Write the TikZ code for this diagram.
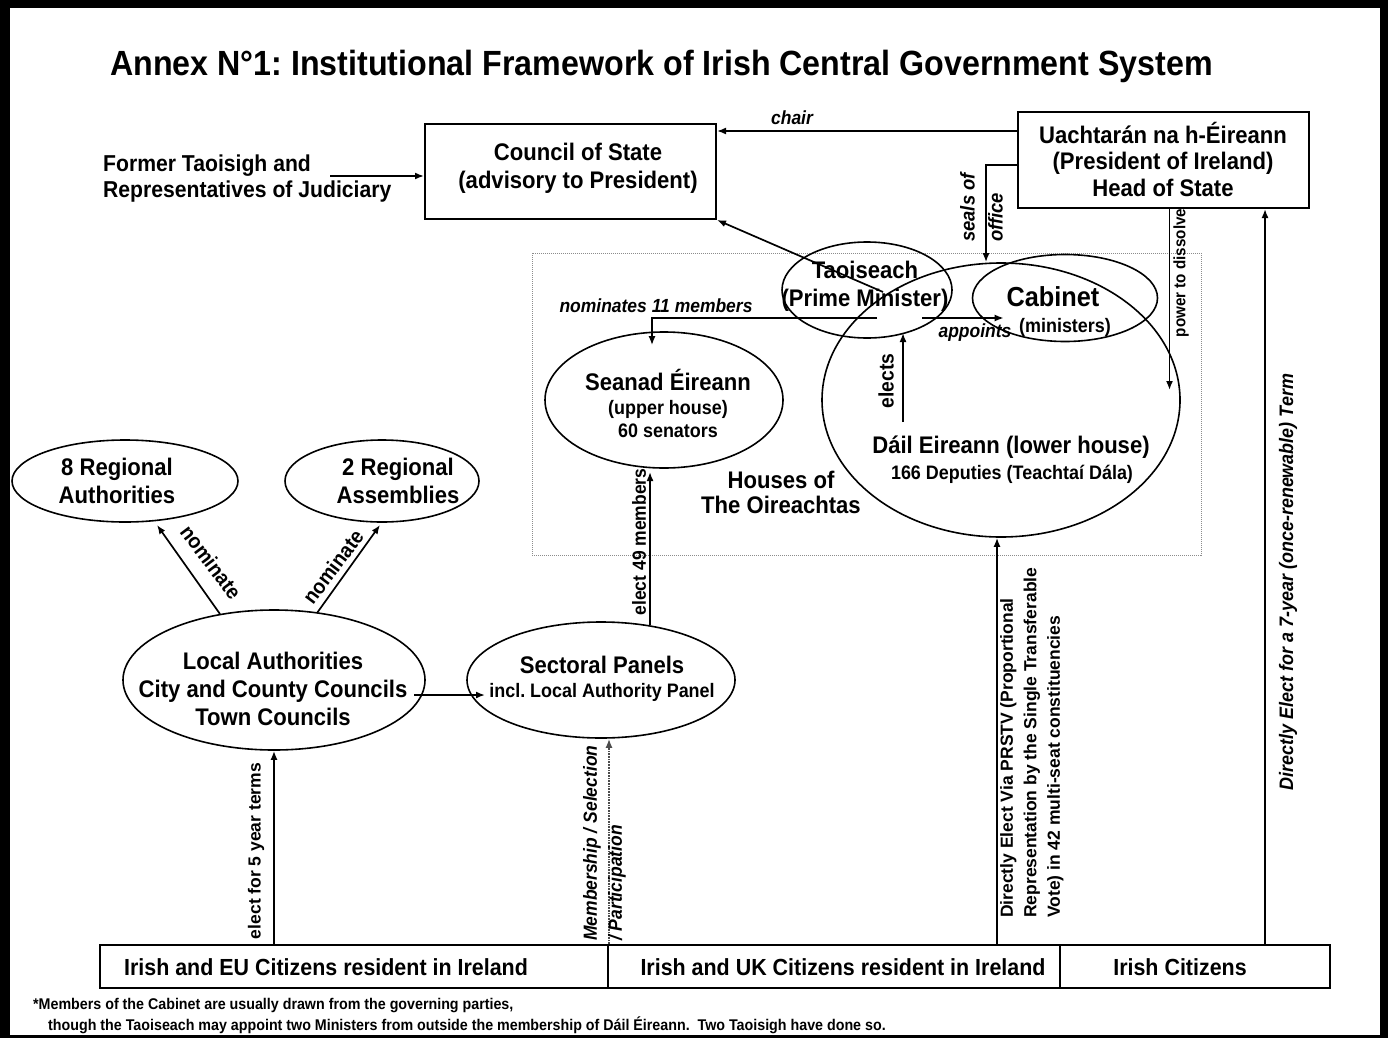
\documentclass[tikz,border=0pt]{standalone}
\usepackage{fontspec}
\setmainfont{Liberation Sans}[FakeStretch=0.92]
\newfontfamily\widesans{Liberation Sans}
\usetikzlibrary{shapes.geometric,arrows.meta,calc}
\newcommand\fsz[2]{\fontsize{#1}{#2}\selectfont}
\frenchspacing

\begin{document}
\begin{tikzpicture}[x=1pt,y=-1pt,
  lab/.style={align=center, inner sep=0, font=\bfseries\fsz{24}{28}},
  sm/.style={align=center, inner sep=0, font=\bfseries\fsz{19.5}{23}},
  tag/.style={inner sep=0, font=\bfseries\itshape\fsz{19}{22}},
  vtag/.style={inner sep=0, rotate=90, font=\bfseries\fsz{19}{22}},
  box/.style={draw, line width=2, inner sep=0},
  ell/.style={draw, ellipse, line width=1.6, inner sep=0},
  arr/.style={-{Latex[length=9,width=7]}, line width=1.7},
  arrdot/.style={arr, densely dotted, draw=black!70},
]
% page frame
\fill[black] (0,0) rectangle (1388,1038);
\fill[white] (10,8) rectangle (1380,1035);
\useasboundingbox (0,0) rectangle (1388,1038);

% title
\node[anchor=base west, inner sep=0, font=\bfseries\fsz{35}{40}] (title) at (110,76)
  {Annex N°1: Institutional Framework of Irish Central Government System};

% Houses of the Oireachtas frame
\node[draw=black!45, densely dotted, line width=1, minimum width=669, minimum height=302, inner sep=0] (oir) at (866.5,404) {};
\node[lab, font=\bfseries\fsz{24}{25}] (oir-t) at (781,492) {Houses of\\The Oireachtas};

% boxes
\node[box, minimum width=291, minimum height=95] (cs) at (570.5,171.5) {};
\node[lab] (cs-t) at (578,168) {Council of State\\(advisory to President)};
\node[box, minimum width=291, minimum height=96] (pres) at (1163.5,160) {};
\node[lab, font=\bfseries\fsz{24}{26.5}] (pres-t) at (1163,159) {Uachtarán na h-Éireann\\(President of Ireland)\\Head of State};
\node[lab, align=left, anchor=west, font=\bfseries\fsz{23}{26}] (ft) at (103,179) {Former Taoisigh and\\Representatives of Judiciary};

% ellipses
\node[ell, minimum width=226, minimum height=82] (ra8) at (125,481) {};
\node[lab] (ra8-t) at (117,481) {8 Regional\\Authorities};
\node[ell, minimum width=194, minimum height=82] (ra2) at (382,481) {};
\node[lab] (ra2-t) at (398,481) {2 Regional\\Assemblies};
\node[ell, minimum width=302, minimum height=140] (la) at (274,680) {};
\node[lab] (la-t) at (273,689) {Local Authorities\\City and County Councils\\Town Councils};
\node[ell, minimum width=268, minimum height=116] (sp) at (601,680) {};
\node[lab] (sp-t1) at (602,665) {Sectoral Panels};
\node[sm] (sp-t2) at (602,692) {incl. Local Authority Panel};
\node[ell, minimum width=238, minimum height=136] (sen) at (664,400) {};
\node[lab] (sen-t1) at (668,380) {Seanad Éireann};
\node[sm] (sen-t2) at (668,419) {(upper house)\\60 senators};
\node[ell, minimum width=358, minimum height=274] (dail) at (1001,400) {};
\node[lab] (dail-t1) at (1011,447) {Dáil Eireann (lower house)};
\node[sm] (dail-t2) at (1012,474) {166 Deputies (Teachtaí Dála)};
\node[ell, minimum width=170, minimum height=96] (tao) at (867,290) {};
\node[lab] (tao-t) at (865,286) {Taoiseach\\(Prime Minister)};
\node[ell, minimum width=185, minimum height=87] (cab) at (1065,298) {};
\node[inner sep=0, font=\bfseries\fsz{27.5}{30}] (cab-t) at (1053,297) {Cabinet};
\node[inner sep=0, font=\bfseries\fsz{19.5}{22}] (cab-s) at (1065,327) {(ministers)};

% electorate boxes
\node[box, minimum width=508, minimum height=43] (eu) at (354,966.5) {};
\node[lab, font=\bfseries\fsz{23.3}{25}] (eu-t) at (326,967) {Irish and EU Citizens resident in Ireland};
\node[box, minimum width=452, minimum height=43] (uk) at (834,966.5) {};
\node[lab, font=\bfseries\fsz{23.3}{25}] (uk-t) at (843,967) {Irish and UK Citizens resident in Ireland};
\node[box, minimum width=270, minimum height=43] (ic) at (1195,966.5) {};
\node[lab, font=\bfseries\fsz{23.3}{25}] (ic-t) at (1180,967) {Irish Citizens};

% connectors
\draw[arr] ($(ft.west)+(227,-3)$) -- ($(cs.west)+(0,4.5)$);
\draw[arr] ($(pres.north west)+(0,20)$) -- ($(cs.north east)+(0,8)$);
\node[tag] (chair) at (792,118) {chair};

\draw[arr] ($(pres.west)+(0,5)$) -| ($(dail.north)+(-15,0)$);
\node[tag, rotate=90, align=left, anchor=north west, font=\bfseries\itshape\fsz{20}{28}] (seals) at (960,242) {seals of\\office};

\coordinate (pw-top) at ($(pres.south)+(6,0)$);
\coordinate (pw-end) at (pw-top |- dail.east);
\draw[arr] (pw-top) -- ($(pw-end)+(0,-10)$);
\node[vtag, font=\bfseries\fsz{16.5}{18}] (pow) at (1181,273) {power to dissolve};

\draw[arr] ($(tao.center)+(16,2)$) -- (cs.south east);

\draw[arr] ($(tao.center)+(10,28)$) -| ($(sen.north)+(-12,14)$);
\node[tag] (nom11) at (656,306) {nominates 11 members};

\draw[arr] ($(tao.center)+(55,28)$) -- ($(cab.west)+(32,20)$);
\node[tag] (appt) at (975,333) {appoints};

\draw[arr] ($(dail.center)+(-98,22)$) -- ($(tao.center)+(36,43)$);
\node[vtag, font=\bfseries\fsz{21}{22}] (elects) at (886,381) {elects};

\coordinate (d-top) at ($(dail.south)+(-4,0)$);
\draw[arr] (d-top |- uk.north) -- (d-top);
\node[inner sep=0, rotate=90, align=left, anchor=north west, font=\widesans\bfseries\fsz{17.5}{23.5}] (prstv) at (1000,918)
  {Directly Elect Via PRSTV (Proportional\\Representation by the Single Transferable\\Vote) in 42 multi-seat constituencies};

\coordinate (p-bot) at ($(pres.south)+(101.5,0)$);
\draw[arr] (p-bot |- ic.north) -- (p-bot);
\node[tag, rotate=90, font=\bfseries\itshape\fsz{19.5}{22}] (seven) at (1288,582) {Directly Elect for a 7-year (once-renewable) Term};

\draw[arr] (la.south |- eu.north) -- (la.south);
\node[vtag, font=\widesans\bfseries\fsz{17.5}{20}] (five) at (256,851) {elect for 5 year terms};

\draw[arrdot] (eu.north east) -- (eu.north east |- sp.south);
\node[tag, rotate=90, align=left, anchor=north west, font=\bfseries\itshape\fsz{19}{25}] (memb) at (583,941) {Membership / Selection\\/ Participation};

\draw[arr] ($(la.center)+(140,15)$) -- ($(sp.center)+(-116,15)$);

\draw[arr] ($(sp.center)+(49,-55)$) -- ($(sen.center)+(-14,72)$);
\node[vtag] (e49) at (639,542) {elect 49 members};

\draw[arr] ($(la.center)+(-54,-66)$) -- ($(ra8.center)+(32,44)$);
\node[inner sep=0, rotate=-53, font=\bfseries\fsz{21}{22}] (nomL) at (211,562) {nominate};
\draw[arr] ($(la.center)+(43,-67)$) -- ($(ra2.center)+(-2,44)$);
\node[inner sep=0, rotate=53, font=\bfseries\fsz{21}{22}] (nomR) at (333,567) {nominate};

% footnote
\node[anchor=base west, inner sep=0, font=\bfseries\fsz{15.5}{16}] (fn1) at (33,1009)
  {*Members of the Cabinet are usually drawn from the governing parties,};
\node[anchor=base west, inner sep=0, font=\bfseries\fsz{15.5}{16}] (fn2) at (48,1030)
  {though the Taoiseach may appoint two Ministers from outside the membership of Dáil Éireann.\ \ Two Taoisigh have done so.};
\end{tikzpicture}
\end{document}
